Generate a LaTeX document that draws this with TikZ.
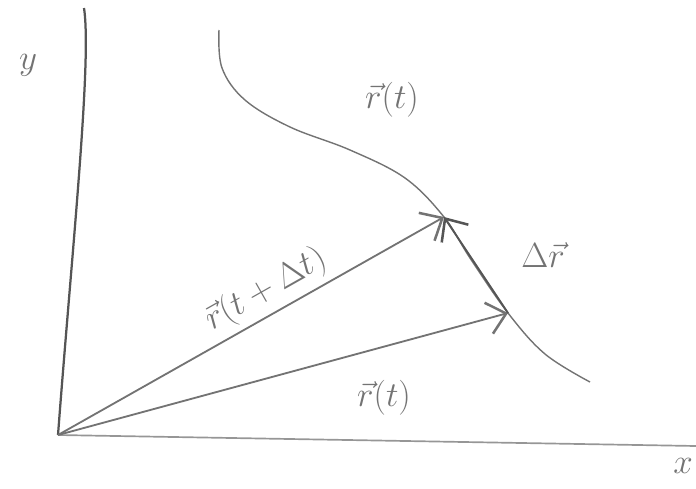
\documentclass[tikz,border=0pt]{standalone}
\usepackage{amsmath}
\usepackage{tikz}
\usetikzlibrary{arrows.meta,positioning}
\definecolor{mypencil}{RGB}{115,115,115}
\definecolor{mypencillt}{RGB}{150,150,150}
\definecolor{mypencildk}{RGB}{85,85,85}

\begin{document}
\begin{tikzpicture}[x=0.025cm, y=-0.025cm,
    every node/.style={text=mypencil},
    big/.style={font=\fontsize{26}{30}\selectfont},
    vec/.style={draw=mypencil, line width=1.3pt,
      -{Straight Barb[length=4.5mm,width=8mm,line width=1.8pt]}}]
  \useasboundingbox (0,0) rectangle (696,488);
  \coordinate (o) at (58,435);
  \coordinate (ytop) at (84,8);
  \coordinate (xend) at (696,446);
  \coordinate (rt) at (508,313);
  \coordinate (rdt) at (444,217);

  % axes
  \draw[mypencildk, line width=1.6pt] (o) .. controls (72,250) and (92,60) .. (ytop);
  \draw[mypencillt, line width=1.2pt] (o) -- (xend);
  \node[big] (lbly) at (28,65) {$y$};
  \node[big] (lblx) at (683,466) {$x$};

  % path of the particle
  \draw[mypencil, line width=1pt] plot[smooth, tension=0.6] coordinates
    {(219,30) (222,68) (245,100) (290,127) (350,150) (405,178) (rdt)
     (470,258) (rt) (545,354) (590,382)};
  \node[big] (lblcurve) at (392,100) {$\vec{r}(t)$};

  % position vectors
  \draw[vec] (o) -- (rt);
  \draw[vec] (o) -- (rdt);
  \draw[vec, draw=mypencildk] (rt) -- (rdt);
  \node[font=\fontsize{23}{26}\selectfont, rotate=29.5] (lblrdt) at (266,290) {$\vec{r}(t+\Delta t)$};
  \node[big] (lblrt) at (384,398) {$\vec{r}(t)$};
  \node[big] (lbldr) at (543,255) {$\Delta\vec{r}$};
\end{tikzpicture}
\end{document}
